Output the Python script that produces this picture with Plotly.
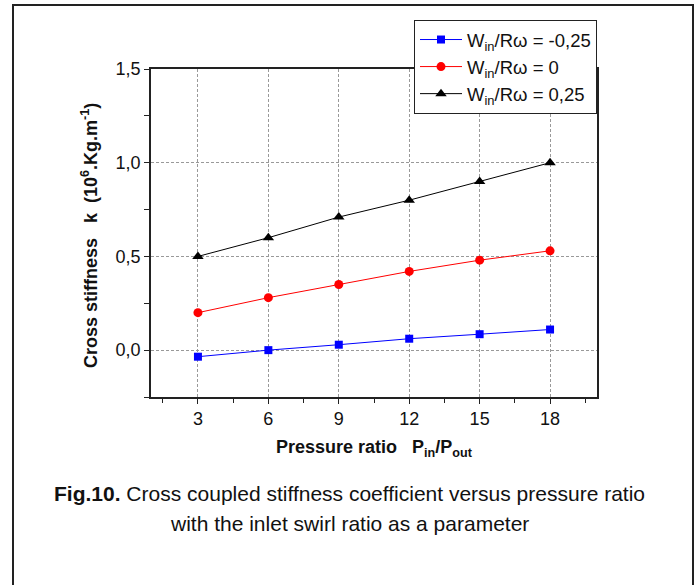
import plotly.graph_objects as go

pressure_ratio = [3, 6, 9, 12, 15, 18]
k_neg025 = [-0.035, 0.0, 0.029, 0.061, 0.085, 0.11]
k_zero = [0.20, 0.28, 0.35, 0.42, 0.48, 0.53]
k_pos025 = [0.50, 0.60, 0.71, 0.80, 0.90, 1.00]
y_tickvals = [0.0, 0.5, 1.0, 1.5]
y_ticktext = ["0,0", "0,5", "1,0", "1,5"]
x_tickvals = [3, 6, 9, 12, 15, 18]

FONT = "Liberation Sans, Arial, sans-serif"
W, H = 699, 585
L, R, T, B = 151, 102, 69, 188
PW, PH = W - L - R, H - T - B


def px(x):
    return (x - L) / PW


def py(y):
    return (H - B - y) / PH


fig = go.Figure()
fig.add_trace(go.Scatter(x=pressure_ratio, y=k_neg025, mode="lines+markers",
                         name="W<sub>in</sub>/R\u03c9 = -0,25",
                         line=dict(color="#0000ff", width=1),
                         marker=dict(symbol="square", size=8, color="#0000ff")))
fig.add_trace(go.Scatter(x=pressure_ratio, y=k_zero, mode="lines+markers",
                         name="W<sub>in</sub>/R\u03c9 = 0",
                         line=dict(color="#ff0000", width=1),
                         marker=dict(symbol="circle", size=9, color="#ff0000")))
fig.add_trace(go.Scatter(x=pressure_ratio, y=k_pos025, mode="lines+markers",
                         name="W<sub>in</sub>/R\u03c9 = 0,25",
                         line=dict(color="#000000", width=1),
                         marker=dict(symbol="triangle-up", size=10, color="#000000")))

fig.update_layout(
    width=W, height=H,
    margin=dict(l=L, r=R, t=T, b=B, autoexpand=False),
    paper_bgcolor="white", plot_bgcolor="white",
    font=dict(family=FONT, color="#111111"),
    showlegend=True,
    legend=dict(x=1, xanchor="right", y=py(20), yanchor="top",
                bgcolor="white", bordercolor="#222222", borderwidth=1,
                font=dict(size=18.5, family=FONT, color="#111111"),
                itemwidth=42, tracegroupgap=0),
    xaxis=dict(range=[1, 20], tickvals=x_tickvals, ticks="outside", ticklen=5,
               tickwidth=1, tickcolor="#222222",
               minor=dict(tickvals=[1.5, 4.5, 7.5, 10.5, 13.5, 16.5, 19.5],
                          ticks="outside", ticklen=4, tickcolor="#222222", showgrid=False),
               showline=True, linecolor="#222222", linewidth=1.5, mirror=True,
               showgrid=True, gridcolor="#999999", griddash="3px,2px", gridwidth=1,
               zeroline=False, tickfont=dict(size=18, family=FONT, color="#111111")),
    yaxis=dict(range=[-0.25, 1.5], tickvals=y_tickvals, ticktext=y_ticktext,
               ticks="outside", ticklen=5, tickwidth=1, tickcolor="#222222",
               minor=dict(tickvals=[-0.25, 0.25, 0.75, 1.25], ticks="outside",
                          ticklen=5, tickcolor="#222222", showgrid=False),
               showline=True, linecolor="#222222", linewidth=1.5, mirror=True,
               showgrid=True, gridcolor="#999999", griddash="3px,2px", gridwidth=1,
               zeroline=False, tickfont=dict(size=18, family=FONT, color="#111111")),
)

annotations = [
    dict(x=px(374), y=py(448), xref="paper", yref="paper", showarrow=False,
         xanchor="center", yanchor="middle",
         text="<b>Pressure ratio&nbsp;&nbsp; P<sub>in</sub>/P<sub>out</sub></b>",
         font=dict(size=18, family=FONT, color="#111111")),
    dict(x=px(89), y=py(236), xref="paper", yref="paper", showarrow=False,
         xanchor="center", yanchor="middle", textangle=-90,
         text="<b>Cross stiffness&nbsp;&nbsp; k&nbsp; (10<sup>6</sup>.Kg.m<sup>-1</sup>)</b>",
         font=dict(size=18, family=FONT, color="#111111")),
    dict(x=px(349), y=py(493), xref="paper", yref="paper", showarrow=False,
         xanchor="center", yanchor="middle",
         text="<b>Fig.10.</b> Cross coupled stiffness coefficient versus pressure ratio",
         font=dict(size=21, family=FONT, color="#111111")),
    dict(x=px(349), y=py(523), xref="paper", yref="paper", showarrow=False,
         xanchor="center", yanchor="middle",
         text="with the inlet swirl ratio as a parameter",
         font=dict(size=21, family=FONT, color="#111111")),
]
fig.update_layout(annotations=annotations)

fig.add_shape(type="rect", xref="paper", yref="paper",
              x0=px(13), x1=px(693), y0=py(620), y1=py(5),
              line=dict(color="#222222", width=2), layer="below")

fig.write_html("out.html")
